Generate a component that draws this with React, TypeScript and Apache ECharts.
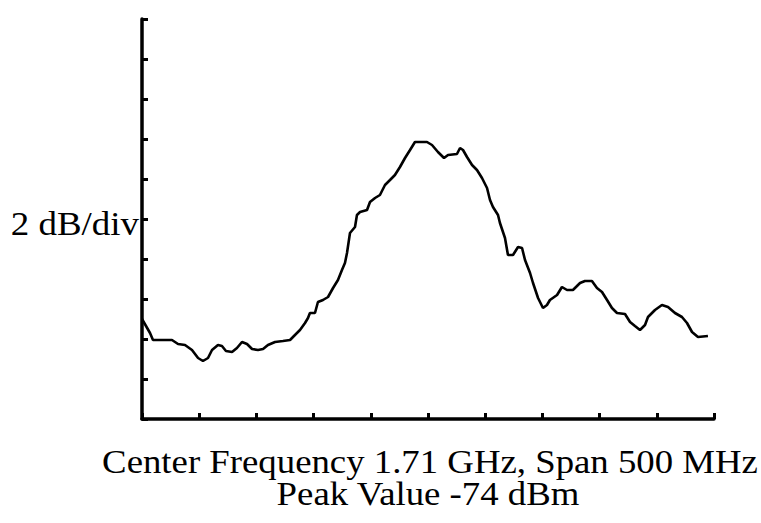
import React, { useEffect, useRef } from "react";
import * as echarts from "echarts";

// Frequency offset from start of span (MHz), 0..500 (center 1.71 GHz, span 500 MHz)
const freqOffsetMHz = [
  0, 3.5, 7.0, 9.6, 26.2, 31.5, 37.6, 43.7, 49.0, 53.3, 57.7, 61.2, 66.4, 69.9, 73.4, 78.7,
  83.0, 87.4, 91.8, 96.2, 101.4, 105.8, 110.1, 116.3, 123.2, 129.4, 133.7, 138.1, 142.5, 145.1,
  146.8, 151.2, 153.8, 158.2, 162.6, 167.0, 171.3, 174.8, 177.4, 179.2, 181.8, 186.2, 187.9,
  190.6, 196.7, 199.3, 203.7, 208.0, 212.4, 216.8, 221.1, 225.5, 229.9, 234.3, 238.6, 249.1,
  253.5, 258.7, 264.0, 267.5, 275.3, 278.0, 280.6, 284.1, 288.5, 292.8, 297.2, 301.6, 304.2,
  306.8, 311.2, 312.9, 317.3, 319.9, 324.3, 328.7, 332.2, 334.8, 339.2, 341.8, 346.2, 350.5,
  354.0, 356.6, 362.8, 367.1, 371.5, 376.7, 382.9, 387.2, 393.3, 397.7, 402.1, 406.5, 410.8,
  415.2, 422.2, 426.6, 430.9, 435.3, 439.7, 442.3, 448.4, 454.5, 459.8, 465.9, 472.0, 476.4,
  480.8, 486.0, 494.7,
];

// Level above bottom of screen (dB), 2 dB/div, 10 divisions
const levelDb = [
  5.0, 4.65, 4.3, 3.95, 3.95, 3.75, 3.7, 3.45, 3.05, 2.9, 3.05, 3.45, 3.7, 3.65, 3.4, 3.35,
  3.55, 3.85, 3.75, 3.5, 3.45, 3.5, 3.7, 3.85, 3.9, 3.95, 4.2, 4.45, 4.8, 5.05,
  5.3, 5.3, 5.85, 5.95, 6.1, 6.55, 6.95, 7.45, 7.8, 8.3, 9.3, 9.6, 10.2,
  10.35, 10.45, 10.85, 11.05, 11.2, 11.7, 11.95, 12.2, 12.6, 13.05, 13.45, 13.85, 13.85,
  13.7, 13.35, 13.05, 13.2, 13.25, 13.55, 13.45, 13.1, 12.7, 12.45, 12.05, 11.55, 10.95,
  10.6, 10.2, 9.8, 9.05, 8.2, 8.2, 8.6, 8.55, 7.95, 7.3, 6.8, 6.05, 5.55,
  5.7, 5.95, 6.2, 6.6, 6.45, 6.45, 6.8, 6.9, 6.9, 6.55, 6.35, 5.95, 5.55,
  5.3, 5.25, 4.85, 4.65, 4.45, 4.7, 5.1, 5.45, 5.7, 5.6, 5.3, 5.1, 4.8,
  4.35, 4.1, 4.15,
];

const yLabel = "2 dB/div";
const captionLines = ["Center Frequency 1.71 GHz, Span 500 MHz", "Peak Value -74 dBm"];

export default function App() {
  const ref = useRef<HTMLDivElement>(null);
  useEffect(() => {
    if (!ref.current) return;
    const chart = echarts.init(ref.current, null, { renderer: "svg" });
    const font = "'Liberation Serif', 'Times New Roman', serif";
    const textStyle = (text: string, align: string) => ({
      text,
      font: `33px ${font}`,
      lineHeight: 30,
      fill: "#000",
      textAlign: align,
      textVerticalAlign: "middle",
    });
    chart.setOption({
      animation: false,
      backgroundColor: "#ffffff",
      grid: { left: 142, right: 47, top: 19, bottom: 104 },
      xAxis: {
        type: "value",
        min: 0,
        max: 500,
        interval: 50,
        axisLine: { show: true, lineStyle: { color: "#000", width: 3.5 } },
        axisTick: { show: true, inside: true, length: 6, lineStyle: { color: "#000", width: 3 } },
        axisLabel: { show: false },
        splitLine: { show: false },
      },
      yAxis: {
        type: "value",
        min: 0,
        max: 20,
        interval: 2,
        axisLine: { show: true, lineStyle: { color: "#000", width: 3.5 } },
        axisTick: { show: true, inside: true, length: 6, lineStyle: { color: "#000", width: 3 } },
        axisLabel: { show: false },
        splitLine: { show: false },
      },
      series: [
        {
          type: "line",
          data: freqOffsetMHz.map((f, i) => [f, levelDb[i]]),
          showSymbol: false,
          symbol: "none",
          lineStyle: { color: "#000", width: 2.6 },
          z: 3,
        },
      ],
      graphic: [
        {
          type: "text",
          x: 139,
          y: 224,
          scaleX: 1.12,
          style: textStyle(yLabel, "right"),
        },
        {
          type: "text",
          x: 430,
          y: 462,
          scaleX: 1.115,
          style: textStyle(captionLines[0], "center"),
        },
        {
          type: "text",
          x: 428,
          y: 494,
          scaleX: 1.115,
          style: textStyle(captionLines[1], "center"),
        },
      ],
    });
    return () => chart.dispose();
  }, []);
  return (
    <div
      ref={ref}
      style={{ position: "absolute", left: 0, top: 0, width: 761, height: 523 }}
    />
  );
}
